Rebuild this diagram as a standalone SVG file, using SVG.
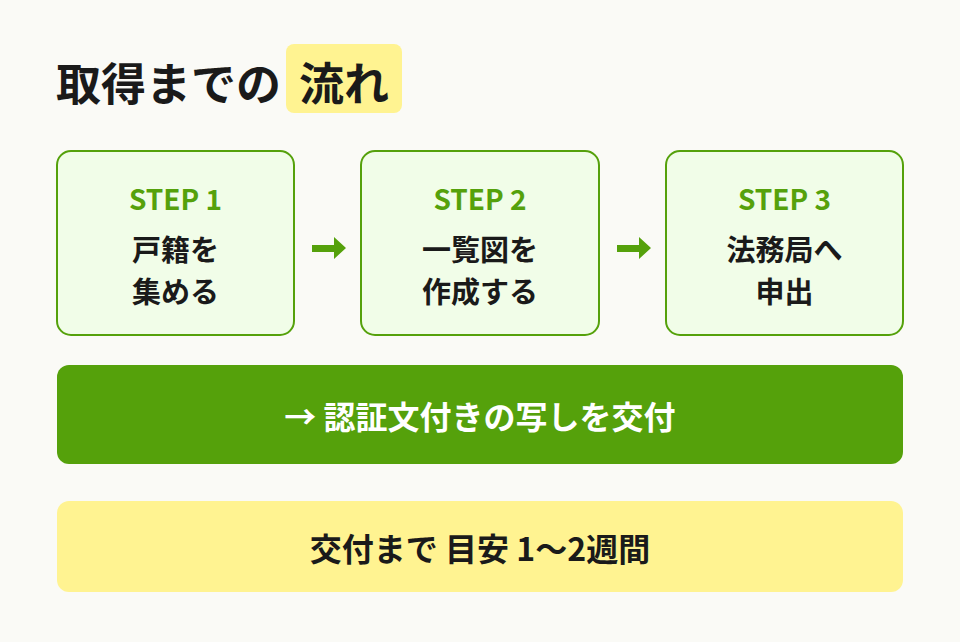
<svg xmlns="http://www.w3.org/2000/svg" width="960" height="642" viewBox="0 0 960 642">
<style>
text{font-family:"Noto Sans CJK JP","Noto Sans",sans-serif;font-weight:700}
.box{fill:#f1fde8;stroke:#55a10b;stroke-width:2}
.step{fill:#55a10b;font-size:28px;text-anchor:middle}
.lbl{fill:#1a1a1a;font-size:29px;text-anchor:middle}
.arr{fill:#55a10b}
</style>
<rect width="960" height="642" fill="#fafaf6"/>
<g id="title">
<rect x="286" y="44" width="116" height="69" rx="8" fill="#fff391"/>
<text x="56" y="101" font-size="45" font-weight="900" fill="#1a1a1a">取得までの</text>
<text x="344" y="101" font-size="45" font-weight="900" fill="#1a1a1a" text-anchor="middle">流れ</text>
</g>
<g id="step1">
<rect class="box" x="57" y="151" width="237" height="184" rx="14"/>
<text class="step" x="175.5" y="210">STEP 1</text>
<text class="lbl" x="175.5" y="261">戸籍を</text>
<text class="lbl" x="175.5" y="303">集める</text>
</g>
<g id="step2">
<rect class="box" x="361" y="151" width="238" height="184" rx="14"/>
<text class="step" x="480" y="210">STEP 2</text>
<text class="lbl" x="480" y="261">一覧図を</text>
<text class="lbl" x="480" y="303">作成する</text>
</g>
<g id="step3">
<rect class="box" x="666" y="151" width="237" height="184" rx="14"/>
<text class="step" x="784.5" y="210">STEP 3</text>
<text class="lbl" x="784.5" y="261">法務局へ</text>
<text class="lbl" x="784.5" y="303">申出</text>
</g>
<g id="connectors">
<polygon class="arr" points="312,245 334,245 334,237 346,248 334,259 334,252 312,252"/>
<polygon class="arr" points="617,245 639,245 639,237 651,248 639,259 639,252 617,252"/>
</g>
<g id="result">
<rect x="57" y="365" width="846" height="99" rx="12" fill="#55a10b"/>
<text x="480" y="429" font-size="32" fill="#ffffff" text-anchor="middle">→ 認証文付きの写しを交付</text>
</g>
<g id="duration">
<rect x="57" y="501" width="846" height="91" rx="12" fill="#fff391"/>
<text x="480" y="561" font-size="32" fill="#1a1a1a" text-anchor="middle">交付まで 目安 1〜2週間</text>
</g>
</svg>
